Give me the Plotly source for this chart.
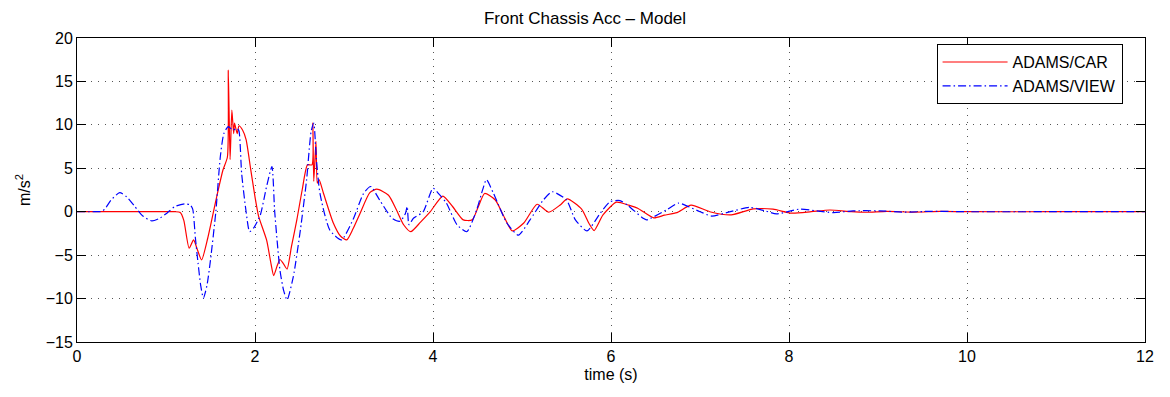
import plotly.graph_objects as go

# Front chassis vertical acceleration, two simulation models
t_car = [0, 0.6, 1.10, 1.16, 1.20, 1.26, 1.31, 1.35, 1.40, 1.47, 1.57, 1.64, 1.69, 1.70, 1.72, 1.74, 1.76,
         1.77, 1.80, 1.82, 1.86, 1.90, 1.95, 2.00, 2.04, 2.13, 2.18, 2.21, 2.25, 2.28, 2.32, 2.36,
         2.41, 2.47, 2.53, 2.59, 2.64, 2.65, 2.66, 2.685, 2.70, 2.72, 2.77, 2.88, 2.96, 3.03, 3.10,
         3.18, 3.29, 3.37, 3.50, 3.59, 3.67, 3.75, 3.86, 3.97, 4.11, 4.22, 4.34, 4.44, 4.51, 4.58,
         4.70, 4.79, 4.89, 5.02, 5.17, 5.30, 5.43, 5.51, 5.67, 5.75, 5.81, 5.91, 6.06, 6.20, 6.30,
         6.48, 6.60, 6.74, 6.90, 7.11, 7.35, 7.60, 7.82, 8.03, 8.25, 8.46, 8.70, 8.87, 9.10, 9.40,
         9.70, 10.0, 11.0, 12.0]
a_car = [0, 0, 0, -0.1, -1.0, -4.2, -3.25, -4.3, -5.55, -3.0, 1.74, 4.8, 6.3, 16.3, 6.0, 11.7, 9.0,
         10.2, 9.0, 9.9, 9.4, 8.3, 5.0, 1.7, -0.5, -3.25, -6.0, -7.35, -6.2, -5.5, -6.0, -6.6,
         -4.0, -0.94, 2.5, 5.4, 5.4, 10.2, 3.5, 8.1, 3.3, 3.7, 2.1, -1.3, -2.8, -3.25, -2.0,
         -0.2, 2.2, 2.6, 1.9, 0.2, -1.5, -2.3, -1.2, 0, 1.8, 0.6, -0.94, -0.94, 0.6, 2.1,
         1.35, -0.4, -2.2, -1.3, 0.86, -0.06, 0.78, 1.47, 0.3, -1.3, -2.17, -0.37, 1.1, 0.75, 0.4,
         -0.7, -0.4, -0.1, 0.75, 0, -0.37, 0.32, 0.29, -0.17, 0.0, 0.2, 0.0, -0.06, 0.05, -0.05,
         0.03, 0, 0, 0]

t_view = [0, 0.20, 0.28, 0.32, 0.38, 0.48, 0.56, 0.65, 0.74, 0.84, 0.92, 1.01, 1.10, 1.21, 1.27, 1.30, 1.33,
          1.36, 1.39, 1.42, 1.46, 1.50, 1.56, 1.61, 1.65, 1.70, 1.75, 1.80, 1.82, 1.85, 1.90, 1.94,
          1.99, 2.06, 2.13, 2.19, 2.22, 2.25, 2.28, 2.32, 2.36, 2.43, 2.51, 2.58, 2.63, 2.66, 2.69,
          2.73, 2.84, 2.97, 3.10, 3.22, 3.30, 3.40, 3.54, 3.63, 3.69, 3.71, 3.73, 3.78, 3.89, 4.00,
          4.07, 4.15, 4.27, 4.38, 4.49, 4.56, 4.60, 4.68, 4.83, 4.96, 5.09, 5.24, 5.34, 5.50, 5.60,
          5.73, 5.88, 5.99, 6.10, 6.18, 6.36, 6.40, 6.62, 6.76, 6.85, 7.00, 7.13, 7.34, 7.56, 7.73,
          7.86, 8.12, 8.31, 8.50, 8.72, 9.01, 9.30, 9.60, 10.0, 11.0, 12.0]
a_view = [0, 0, 0.05, 0.4, 1.3, 2.2, 1.7, 0.6, -0.5, -1.06, -0.8, -0.17, 0.6, 0.9, 0.8, 0.3, -3.0,
          -5.9, -8.5, -9.95, -8.5, -5.55, 0, 6.3, 9.0, 9.8, 9.4, 9.6, 9.3, 4.4, 0, -2.3,
          -1.8, -0.37, 2.9, 5.2, 0.2, -3.5, -6.7, -9.0, -10.15, -7.5, -2.1, 3.7, 9.2, 10.2, 6.0,
          2.1, -2.1, -3.25, -0.94, 2.1, 2.9, 1.35, -0.75, -1.1, -0.2, 0.6, -1.5, -0.75, 0, 2.7,
          2.0, 1.0, -1.5, -2.3, 0.2, 2.6, 3.7, 2.1, -1.3, -2.7, -0.94, 1.35, 2.3, 1.35, -0.94,
          -2.2, -0.17, 1.16, 1.28, 0.8, -0.75, -0.94, 0.2, 1.0, 0.67, 0, -0.5, 0, 0.5, 0.1,
          -0.25, 0.3, 0.1, -0.1, 0.1, 0.1, -0.05, 0.05, 0, 0, 0]

x_ticks = [0, 2, 4, 6, 8, 10, 12]
y_ticks = [-15, -10, -5, 0, 5, 10, 15, 20]
y_tick_text = ["\u221215", "\u221210", "\u22125", "0", "5", "10", "15", "20"]

FONT = "Liberation Sans, Arial, Helvetica, sans-serif"

fig = go.Figure()
fig.add_trace(go.Scatter(
    x=t_car, y=a_car, mode="lines", name="ADAMS/CAR",
    line=dict(color="#ff0000", width=1.2, shape="spline", smoothing=0.6),
))
fig.add_trace(go.Scatter(
    x=t_view, y=a_view, mode="lines", name="ADAMS/VIEW",
    line=dict(color="#0000ff", width=1.2, dash="8px,3px,1.5px,3px", shape="spline", smoothing=0.6),
))

axis_common = dict(
    showline=True, linecolor="black", linewidth=1, mirror="ticks",
    ticks="inside", ticklen=9, tickcolor="black", tickwidth=1,
    showgrid=True, gridcolor="#555555", griddash="1px,6px", gridwidth=1,
    zeroline=False, tickfont=dict(family=FONT, size=16, color="black"),
)

fig.update_xaxes(
    range=[0, 12], tickvals=x_ticks, ticktext=[str(v) for v in x_ticks],
    title=dict(text="time (s)", font=dict(family=FONT, size=16, color="black"), standoff=4),
    **axis_common,
)
fig.update_yaxes(
    range=[-15, 20], tickvals=y_ticks, ticktext=y_tick_text,
    title=dict(text="m/s<sup>2</sup>", font=dict(family=FONT, size=16, color="black"), standoff=11),
    **axis_common,
)

fig.update_layout(
    width=1170, height=397,
    margin=dict(l=77, r=25, t=38, b=55),
    paper_bgcolor="white", plot_bgcolor="white",
    title=dict(text="Front Chassis Acc \u2013 Model", x=0.5, xanchor="center",
               y=0.955, yanchor="middle",
               font=dict(family=FONT, size=17, color="black")),
    legend=dict(x=0.979, xanchor="right", y=0.98, yanchor="top",
                bgcolor="white", bordercolor="black", borderwidth=1,
                font=dict(family=FONT, size=16, color="black"),
                itemwidth=65, tracegroupgap=0),
    showlegend=True,
)

fig.write_html("out.html")
